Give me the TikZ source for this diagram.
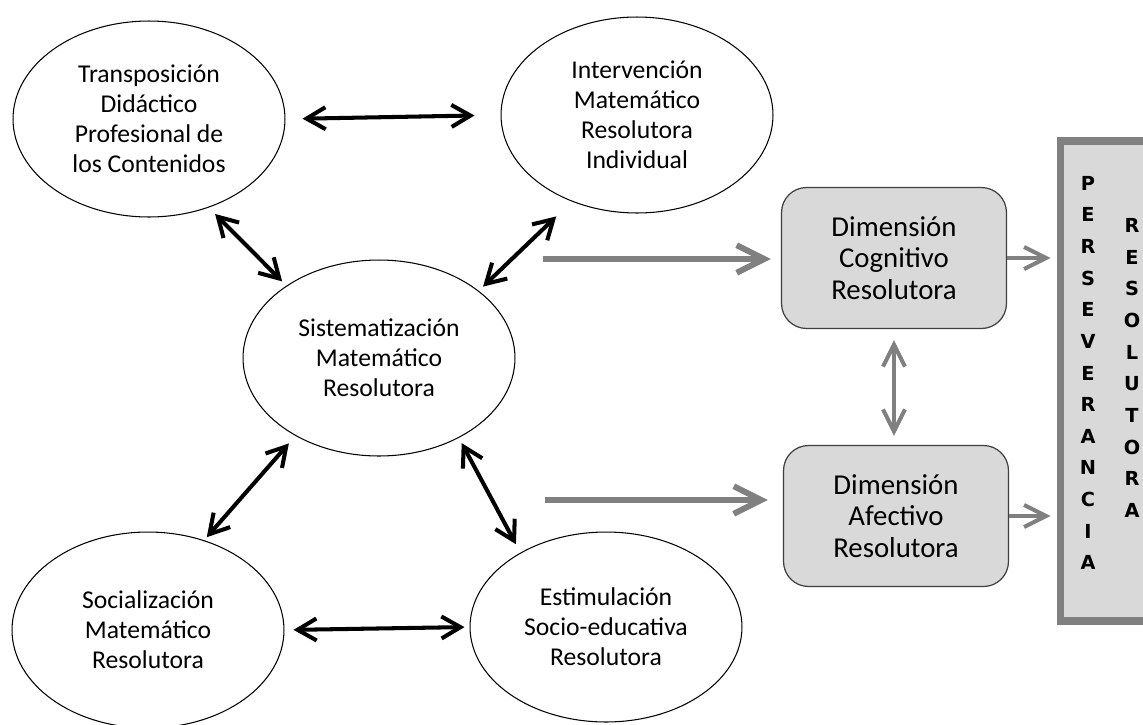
\documentclass[tikz,border=0pt]{standalone}
\usepackage{fontspec}
\setmainfont{Carlito}
\newfontfamily\barfont{DejaVu Sans}
\usetikzlibrary{shapes.geometric, arrows.meta, calc}

\definecolor{boxgray}{RGB}{217,217,217}
\definecolor{arrowgray}{RGB}{128,128,128}
\definecolor{edgegray}{RGB}{64,64,64}

\begin{document}
\begin{tikzpicture}[
    x=0.02cm, y=-0.02cm,
    phase/.style={ellipse, draw=black, line width=0.6pt, minimum width=5.44cm, minimum height=3.92cm, inner sep=0pt, align=center, font=\fontsize{14.6}{17}\selectfont},
    dimension/.style={rectangle, draw=edgegray, fill=boxgray, line width=0.7pt, rounded corners=0.5cm, minimum width=4.5cm, minimum height=2.82cm, align=center, font=\fontsize{16.4}{18}\selectfont},
    bar/.style={rectangle, draw=arrowgray, fill=boxgray, line width=4.5pt, minimum width=2.78cm, minimum height=9.6cm},
    column/.style={align=center, inner sep=0pt, font=\barfont\bfseries\fontsize{11}{18}\selectfont},
    link/.style={<->, >={Straight Barb[length=0.38cm, width=0.44cm]}, line width=2.3pt},
    flow/.style={->, >={Straight Barb[length=0.55cm, width=0.55cm]}, draw=arrowgray, line width=3.4pt},
    feed/.style={->, >={Straight Barb[length=0.44cm, width=0.44cm]}, draw=arrowgray, line width=2.3pt}
]

\clip (0,0) rectangle (1143,724);

% Nodes
\node[phase] (trans) at (149,119) {Transposición\\Didáctico\\Profesional de\\los Contenidos};
\node[phase] (interv) at (637,115) {Intervención\\Matemático\\Resolutora\\Individual};
\node[phase] (sist) at (379,358) {Sistematización\\Matemático\\Resolutora};
\node[phase] (social) at (148,630) {Socialización\\Matemático\\Resolutora};
\node[phase, minimum height=3.8cm] (estim) at (606,627) {Estimulación\\Socio-educativa\\Resolutora};

\node[dimension] (cogn) at (894,258) {Dimensión\\Cognitivo\\Resolutora};
\node[dimension] (afect) at (896,516) {Dimensión\\Afectivo\\Resolutora};

\node[bar] (pers) at (1130,381) {};
\node[column] (persev) at (1088,373) {P\\E\\R\\S\\E\\V\\E\\R\\A\\N\\C\\I\\A};
\node[column] (resol) at (1132,368) {R\\E\\S\\O\\L\\U\\T\\O\\R\\A};

\coordinate (up) at (543,259);
\coordinate (down) at (545,500);

% Arrows
\draw[link, shorten <=0.34cm, shorten >=0.52cm] (trans.east) -- (interv.west);
\draw[link, shorten <=0.18cm, shorten >=0.12cm] (trans.-56) -- (sist.142);
\draw[link, shorten <=0.43cm, shorten >=0.12cm] (interv.-127) -- (sist.34);
\draw[link, shorten <=0.2cm, shorten >=0.08cm] (sist.-137) -- (social.58);
\draw[link, shorten <=0.12cm, shorten >=0.19cm] (sist.-45) -- (estim.139);
\draw[link, shorten <=0.18cm, shorten >=0.1cm] (social.east) -- (estim.west);

\draw[flow, shorten >=0.2cm] (up) -- (up -| cogn.west);
\draw[flow, shorten >=0.3cm] (down) -- (down -| afect.west);
\draw[feed, <->, shorten <=0.22cm, shorten >=0.18cm] (cogn.south) -- (cogn.south |- afect.north);
\draw[feed, shorten >=0.12cm] (cogn.east) -- (cogn.east -| pers.west);
\draw[feed, shorten >=0.12cm] (afect.east) -- (afect.east -| pers.west);

\end{tikzpicture}
\end{document}
